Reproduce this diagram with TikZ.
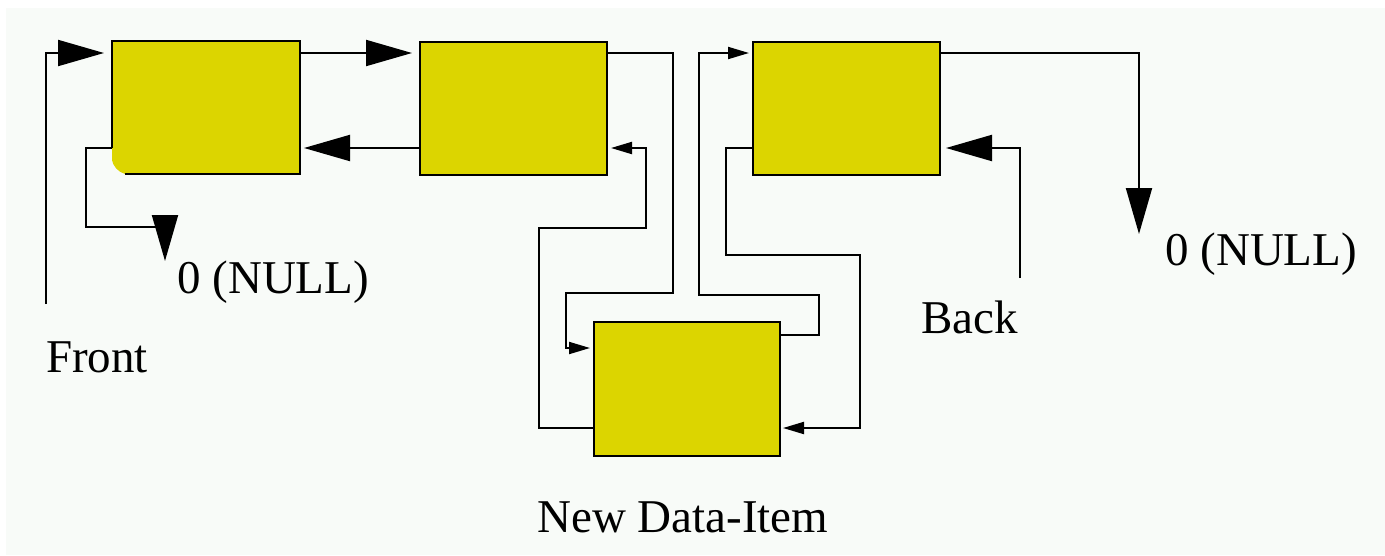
\documentclass[tikz,border=0pt]{standalone}
\usepackage{fontspec}
\setmainfont{Liberation Serif}
\usetikzlibrary{arrows.meta,calc}
\definecolor{boxyellow}{RGB}{220,213,0}
\definecolor{paper}{RGB}{248,251,248}
\tikzset{
  cell/.style={draw=black, fill=boxyellow, line width=2pt, minimum width=187pt,
    minimum height=133pt, inner sep=0pt, anchor=north west},
  link/.style={draw=black, line width=2pt},
  bigtip/.style={link, -{Triangle[length=46pt,width=26pt]}},
  smalltip/.style={link, -{Triangle[length=21pt,width=12pt]}},
  caption/.style={font=\fontsize{47}{56}\selectfont, inner sep=0pt, anchor=base west}
}
\begin{document}
\begin{tikzpicture}[x=1pt,y=-1pt]
% page and background
\fill[white] (0,0) rectangle (1385,555);
\fill[paper] (6,8) rectangle (1385,555);
\useasboundingbox (0,0) rectangle (1385,555);

% list cells
\node[cell, draw=none, fill=none] (b1) at (112,41) {};
\fill[boxyellow] (112,41) -- (300,41) -- (300,174) -- (125,174)
  .. controls (118,172) and (113,166) .. (112,160) -- cycle;
\draw[line width=2pt] (112,148) -- (112,41) -- (300,41) -- (300,174) -- (125,174);
\node[cell] (b2) at (419,41) {};
\node[cell] (b3) at (752,41) {};
\node[cell, minimum width=186pt, minimum height=134pt] (b4) at (593,321) {};

% attachment points on the cells
\coordinate (b1lt) at ($(b1.north west)+(0,12)$);
\coordinate (b1lb) at ($(b1.north west)+(0,107)$);
\coordinate (b1rt) at ($(b1.north east)+(0,12)$);
\coordinate (b1rb) at ($(b1.north east)+(0,107)$);
\coordinate (b2lt) at ($(b2.north west)+(0,12)$);
\coordinate (b2lb) at ($(b2.north west)+(0,107)$);
\coordinate (b2rt) at ($(b2.north east)+(0,12)$);
\coordinate (b2rb) at ($(b2.north east)+(0,107)$);
\coordinate (b3lt) at ($(b3.north west)+(0,12)$);
\coordinate (b3lb) at ($(b3.north west)+(0,107)$);
\coordinate (b3rt) at ($(b3.north east)+(0,12)$);
\coordinate (b3rb) at ($(b3.north east)+(0,107)$);
\coordinate (b4lt) at ($(b4.north west)+(0,27)$);
\coordinate (b4lb) at ($(b4.north west)+(0,107)$);
\coordinate (b4rt) at ($(b4.north east)+(0,14)$);
\coordinate (b4rb) at ($(b4.north east)+(0,107)$);

% free ends
\coordinate (frontend) at (46,304);
\coordinate (backend) at (1020,278);
\coordinate (null1) at (165,261);
\coordinate (null2) at (1139,234);

% front pointer
\draw[bigtip, shorten >=8pt] (frontend) |- (b1lt);
% forward link 1 -> 2
\draw[bigtip, shorten >=7pt] (b1rt) -- (b2lt);
% backward link 2 -> 1
\draw[bigtip, shorten >=3pt] (b2lb) -- (b1rb);
% first cell back pointer to null
\draw[bigtip] (b1lb) -- ++(-26,0) -- ++(0,79) -| (null1);
% cell 2 forward to the new item
\draw[smalltip, shorten >=3pt] (b2rt) -- (673,53) -- (673,293) -- (566,293) |- (b4lt);
% new item back pointer to cell 2
\draw[smalltip, shorten >=3pt] (b4lb) -| (539,228) -| (646,148) -- (b2rb);
% new item forward to cell 3
\draw[smalltip, shorten >=3pt] (b4rt) -| (819,295) -| (699,53) -- (b3lt);
% cell 3 back pointer to the new item
\draw[smalltip, shorten >=2pt] (b3lb) -| (726,255) -| (860,428) -- (b4rb);
% last cell forward to null
\draw[bigtip] (b3rt) -| (null2);
% back pointer
\draw[bigtip, shorten >=5pt] (backend) |- (b3rb);

% labels
\node[caption] (lfront) at (46,372) {Front};
\node[caption] (lnull1) at (177,293) {0 (NULL)};
\node[caption] (lback) at (921,333) {Back};
\node[caption] (lnull2) at (1165,265) {0 (NULL)};
\node[caption] (lnew) at (537,532) {New Data-Item};
\end{tikzpicture}
\end{document}
